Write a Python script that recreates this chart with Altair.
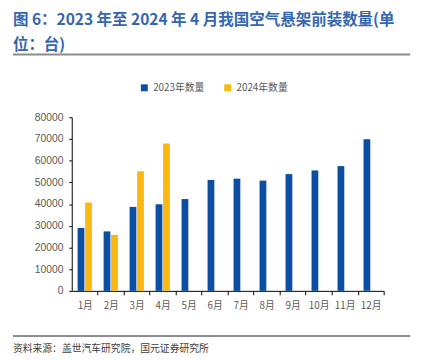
import altair as alt
import pandas as pd

months = ["1月", "2月", "3月", "4月", "5月", "6月", "7月", "8月", "9月", "10月", "11月", "12月"]
v2023 = [29000, 27400, 38700, 39900, 42300, 51100, 51700, 50800, 53800, 55500, 57500, 69900]
months_2024 = ["1月", "2月", "3月", "4月"]
v2024 = [40700, 25800, 55100, 67900]
series = ["2023年数量", "2024年数量"]
colors = ["#0B4EA2", "#FBB810"]
y_ticks = [0, 10000, 20000, 30000, 40000, 50000, 60000, 70000, 80000]

rows = [{"m": m, "s": series[0], "v": v} for m, v in zip(months, v2023)]
rows += [{"m": m, "s": series[1], "v": v} for m, v in zip(months_2024, v2024)]
df = pd.DataFrame(rows)

W, H = 318, 177
step = W / 12
label_font = "Liberation Sans"
cjk = "Noto Sans CJK SC"

bars = alt.Chart(df).mark_bar().encode(
    x=alt.X("m:N", sort=months, title=None,
            scale=alt.Scale(paddingInner=0.45, paddingOuter=0.225),
            axis=alt.Axis(labelAngle=0, domainColor="#000000", tickColor="#000000",
                          tickSize=4, tickOffset=step / 2, labelOffset=-step / 2,
                          labelFont=cjk, labelFontSize=10, labelColor="#595959",
                          labelPadding=6)),
    xOffset=alt.XOffset("s:N", scale=alt.Scale(domain=series, paddingInner=0.1)),
    y=alt.Y("v:Q", title=None,
            scale=alt.Scale(domain=[0, 80000], nice=False),
            axis=alt.Axis(values=y_ticks, grid=False, domainColor="#000000", format="d",
                          tickColor="#000000", tickSize=3, labelFont=label_font,
                          labelFontSize=10.5, labelColor="#595959", labelPadding=6)),
    color=alt.Color("s:N", scale=alt.Scale(domain=series, range=colors),
                    legend=alt.Legend(title=None, orient="none", direction="horizontal",
                                      legendX=69, legendY=-35, symbolType="square",
                                      symbolSize=50, symbolStrokeWidth=0,
                                      labelFont=cjk, labelFontSize=10,
                                      labelColor="#595959", columnPadding=18)),
)

title_df = pd.DataFrame({"t": ["图 6：2023 年至 2024 年 4 月我国空气悬架前装数量(单", "位：台)"],
                         "yy": [-99, -74]})
title = alt.Chart(title_df).mark_text(align="left", baseline="middle", font=cjk,
                                      fontSize=15.8, fontWeight="bold", color="#3566B0").encode(
    x=alt.value(-60), y=alt.Y("yy:Q", scale=None), text="t:N")

rule_df = pd.DataFrame({"yy": [-64, 223]})
rules = alt.Chart(rule_df).mark_rule(color="#8C8C8C", strokeWidth=2).encode(
    x=alt.value(-60), x2=alt.value(345), y=alt.Y("yy:Q", scale=None))

src = alt.Chart(pd.DataFrame({"t": ["资料来源：盖世汽车研究院，国元证券研究所"]})).mark_text(
    align="left", baseline="middle", font=cjk, fontSize=10, color="#404040").encode(
    x=alt.value(-60), y=alt.value(236), text="t:N")

chart = alt.layer(bars, title, rules, src).properties(
    width=W, height=H,
    autosize=alt.AutoSizeParams(type="none"),
    padding={"left": 65, "top": 108, "right": 35, "bottom": 62},
).configure_view(stroke=None)

chart.save("out.html", embed_options={"renderer": "svg", "actions": False})
